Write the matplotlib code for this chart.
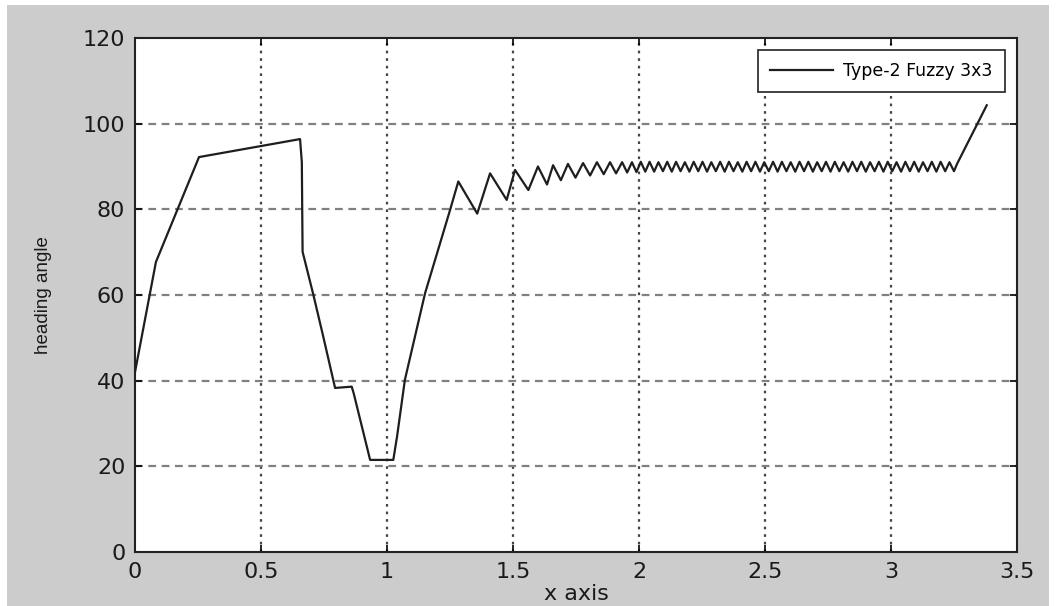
import numpy as np
import matplotlib.pyplot as plt
from matplotlib.patches import Rectangle

# transient part of the heading angle
x_start = [0.0, 0.083, 0.254, 0.655, 0.662, 0.665, 0.708, 0.747, 0.794, 0.860,
           0.868, 0.933, 1.025, 1.040, 1.071, 1.151, 1.250]
y_start = [42.0, 67.7, 92.2, 96.4, 91.0, 70.1, 60.0, 50.3, 38.3, 38.6,
           37.0, 21.5, 21.5, 27.0, 40.2, 60.4, 79.8]

# oscillation around 90 deg (peaks / troughs)
x_osc = [1.283, 1.358, 1.409, 1.475, 1.508, 1.561, 1.599, 1.635, 1.659, 1.690,
         1.718, 1.748, 1.778, 1.806, 1.833, 1.860, 1.885, 1.909, 1.933, 1.953,
         1.972, 1.990, 2.007, 2.025, 2.042, 2.060, 2.077, 2.095, 2.112, 2.130,
         2.147, 2.165, 2.182, 2.200, 2.217, 2.235, 2.252, 2.270, 2.287, 2.305,
         2.322, 2.340, 2.357, 2.375, 2.392, 2.410, 2.427, 2.445, 2.462, 2.480,
         2.497, 2.515, 2.532, 2.550, 2.567, 2.585, 2.602, 2.620, 2.637, 2.655,
         2.672, 2.690, 2.707, 2.725, 2.742, 2.760, 2.777, 2.795, 2.812, 2.830,
         2.847, 2.865, 2.882, 2.900, 2.917, 2.935, 2.952, 2.970, 2.987, 3.005,
         3.022, 3.040, 3.057, 3.075, 3.092, 3.110, 3.127, 3.145, 3.162, 3.180,
         3.197, 3.215, 3.232, 3.250]
y_osc = [86.5, 79.0, 88.4, 82.2, 89.2, 84.5, 90.0, 85.8, 90.3, 86.8,
         90.6, 87.4, 90.8, 87.9, 91.0, 88.2, 91.0, 88.4, 91.0, 88.6,
         91.0, 88.7, 91.1, 88.8, 91.1, 88.8, 91.0, 88.9, 91.1, 88.8,
         91.1, 88.9, 91.0, 88.8, 91.1, 88.9, 91.1, 88.8, 91.0, 88.9,
         91.1, 88.8, 91.1, 88.9, 91.0, 88.8, 91.1, 88.9, 91.1, 88.8,
         91.0, 88.9, 91.1, 88.8, 91.1, 88.9, 91.0, 88.8, 91.1, 88.9,
         91.1, 88.8, 91.0, 88.9, 91.1, 88.8, 91.1, 88.9, 91.0, 88.8,
         91.1, 88.9, 91.1, 88.8, 91.0, 88.9, 91.1, 88.8, 91.1, 88.9,
         91.0, 88.8, 91.1, 88.9, 91.1, 88.8, 91.0, 88.9, 91.1, 88.8,
         91.1, 88.9, 91.0, 88.9]

# final turn
x_end = [3.262, 3.380]
y_end = [90.6, 104.3]

x_ticks = [0, 0.5, 1, 1.5, 2, 2.5, 3, 3.5]
x_tick_labels = ['0', '0.5', '1', '1.5', '2', '2.5', '3', '3.5']
y_ticks = [0, 20, 40, 60, 80, 100, 120]

x = np.array(x_start + x_osc + x_end)
y = np.array(y_start + y_osc + y_end)

fig = plt.figure(figsize=(10.56, 6.06), dpi=100, facecolor='white')
# matlab grey figure area, drawn under the axes
fig.add_artist(Rectangle((7 / 1056, 0), 1042 / 1056, 601 / 606,
                         transform=fig.transFigure, facecolor='#cccccc',
                         edgecolor='none', zorder=-10))

ax = fig.add_axes([135 / 1056, 1 - 552 / 606, 882 / 1056, 514 / 606])
ax.set_facecolor('white')

ax.plot(x, y, color='#1e1e1e', lw=1.6, label='Type-2 Fuzzy 3x3', zorder=3)

ax.set_xlim(0, 3.5)
ax.set_ylim(0, 120)
ax.set_xticks(x_ticks)
ax.set_xticklabels(x_tick_labels)
ax.set_yticks(y_ticks)

# grid: dotted verticals, dashed horizontals
for xv in x_ticks[1:-1]:
    ax.axvline(xv, color='#444444', lw=1.6, ls=(0, (1.2, 2.2)), zorder=1)
for yv in y_ticks[1:-1]:
    ax.axhline(yv, color='#808080', lw=1.6, ls=(0, (3.5, 2.5)), zorder=1)

ax.tick_params(direction='in', length=5, width=1.2, top=True, right=True,
               labelsize=16, pad=7, colors='black')
for lab in ax.get_xticklabels() + ax.get_yticklabels():
    lab.set_family('DejaVu Sans')
    lab.set_color('#1a1a1a')
for sp in ax.spines.values():
    sp.set_linewidth(1.5)
    sp.set_color('#222222')

ax.set_xlabel('x axis', fontsize=16, family='DejaVu Sans', color='#1a1a1a')
ax.xaxis.set_label_coords(0.5, -0.062)
ax.set_ylabel('heading angle', fontsize=13.5, family='Liberation Sans', color='#1a1a1a')
ax.yaxis.set_label_coords(-0.094, 0.5)

leg = ax.legend(loc='upper right', fontsize=12.5, frameon=True, fancybox=False,
                borderaxespad=0.7, handlelength=3.6, handletextpad=0.6,
                borderpad=0.7)
leg.get_frame().set_edgecolor('#222222')
leg.get_frame().set_linewidth(1.2)
leg.get_frame().set_alpha(1)

fig.savefig('out.png', dpi=100, facecolor=fig.get_facecolor())
